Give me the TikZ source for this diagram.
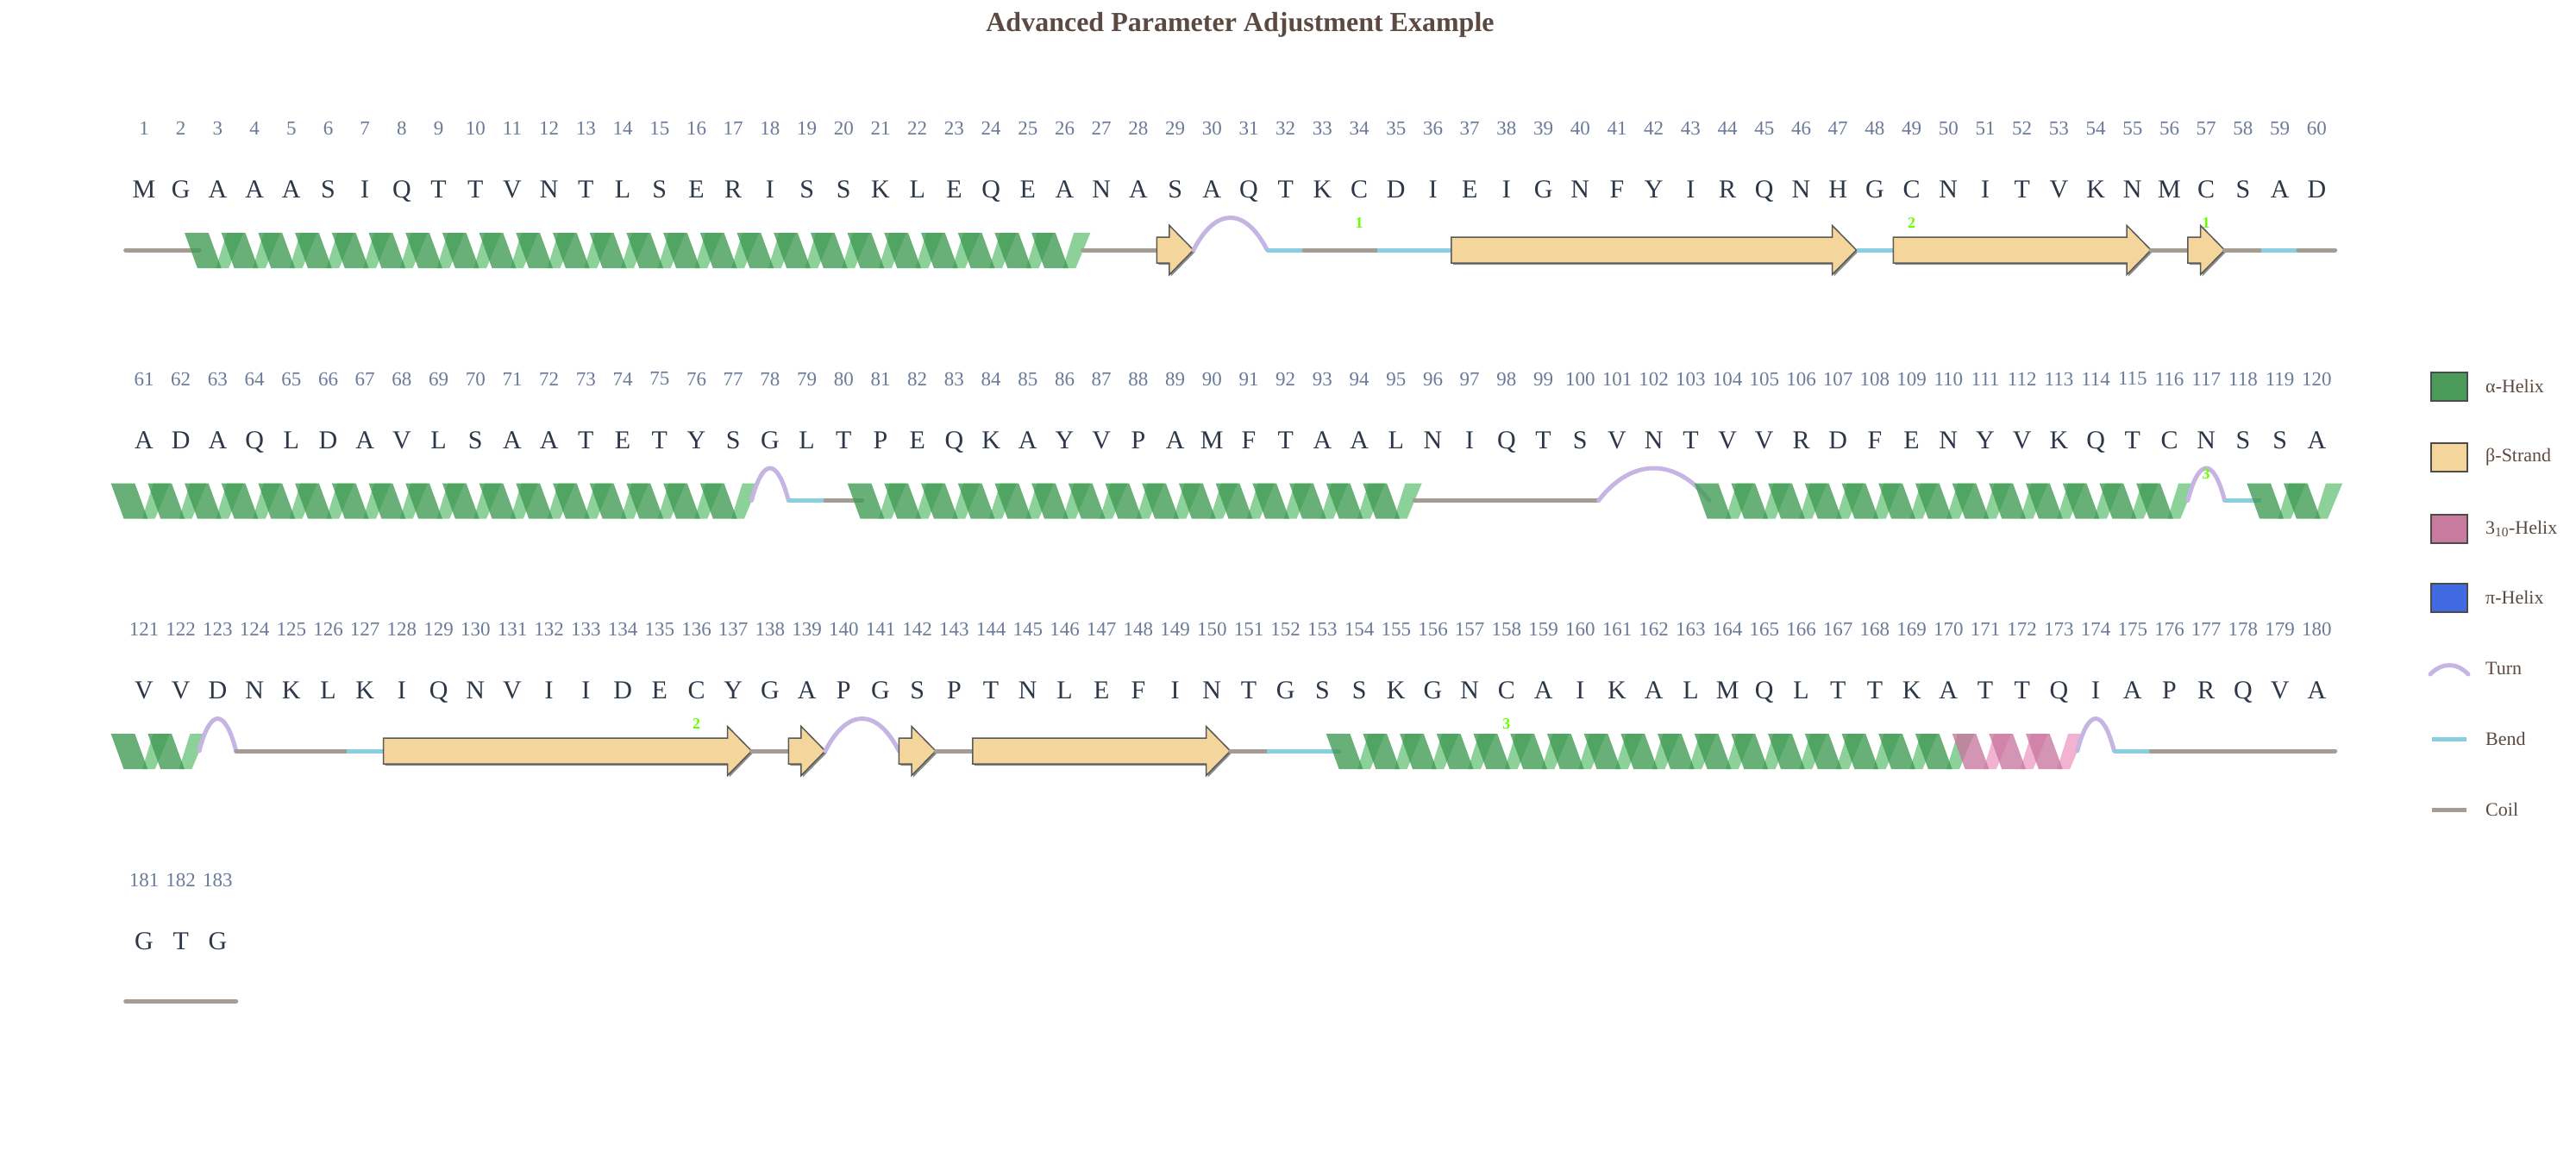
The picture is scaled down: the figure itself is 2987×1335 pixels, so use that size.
\documentclass[tikz,border=0pt]{standalone}
\usepackage{fontspec}
\setmainfont{Liberation Serif}
\definecolor{hdark}{HTML}{3F9A52}
\definecolor{hlight}{HTML}{8CD09A}
\definecolor{pdark}{HTML}{C8769E}
\definecolor{plight}{HTML}{F2B3D1}
\definecolor{strandc}{HTML}{F4D59B}
\definecolor{turnc}{HTML}{C6B5E2}
\definecolor{bendc}{HTML}{8ACFE1}
\definecolor{coilc}{HTML}{A59D94}
\definecolor{numc}{HTML}{6B7A99}
\definecolor{resc}{HTML}{2D3748}
\definecolor{legc}{HTML}{5A4A42}
\definecolor{labc}{HTML}{66FF00}
\tikzset{
 num/.style={text=numc,font=\fontsize{23}{26}\selectfont,inner sep=0},
 res/.style={text=resc,font=\fontsize{30}{34}\selectfont,inner sep=0},
 coilL/.style={draw=coilc,line width=5pt,line cap=round},
 bendL/.style={draw=bendc,line width=5pt},
 turnL/.style={draw=turnc,line width=5pt,line cap=round},
 strandS/.style={fill=strandc,draw=black!65,line width=1.5pt},
 lab/.style={text=labc,font=\bfseries\fontsize{18}{20}\selectfont,inner sep=0},
 leg/.style={text=legc,font=\fontsize{22}{26}\selectfont,anchor=west,inner sep=0},
}
% #1 track y, #2 j1, #3 j2, #4 dark, #5 light
\newcommand\hlx[5]{%
 \foreach \j in {#2,...,#3}{\pgfmathsetmacro\c{167+42.7*(\j-1)}
  \fill[#5] (\c-2.1,#1+21) -- (\c+12.8,#1+21) -- (\c+29.9,#1-20) -- (\c+10.7,#1-20) -- cycle;}
 \foreach \j in {#2,...,#3}{\pgfmathsetmacro\c{167+42.7*(\j-1)}
  \fill[#4,opacity=.78] (\c-38.4,#1-20) -- (\c-10.7,#1-20) -- (\c+4.3,#1+21) -- (\c-23.5,#1+21) -- cycle;}}
\newcommand\seg[4]{% style, y, j1, j2
 \pgfmathsetmacro\a{167+42.7*(#3-1)-21.35}\pgfmathsetmacro\b{167+42.7*(#4-1)+21.35}
 \draw[#1] (\a,#2) -- (\b,#2);}
\newcommand\trn[3]{%
 \pgfmathsetmacro\a{167+42.7*(#2-1)-21.35}\pgfmathsetmacro\b{167+42.7*(#3-1)+21.35}
 \pgfmathsetmacro\w{\b-\a}
 \draw[turnL] (\a,#1) .. controls (\a+0.3*\w,#1-50) and (\a+0.7*\w,#1-50) .. (\b,#1);}
\newcommand\strd[3]{%
 \pgfmathsetmacro\a{167+42.7*(#2-1)-21.35}\pgfmathsetmacro\b{167+42.7*(#3-1)+21.35}
 \pgfmathsetmacro\h{\b-28}
 \fill[black!45] (\a+2,#1-13) -- (\h+2,#1-13) -- (\h+2,#1-26.5) -- (\b+2,#1+2) -- (\h+2,#1+30.5) -- (\h+2,#1+17) -- (\a+2,#1+17) -- cycle;
 \draw[strandS] (\a,#1-15) -- (\h,#1-15) -- (\h,#1-28.5) -- (\b,#1) -- (\h,#1+28.5) -- (\h,#1+15) -- (\a,#1+15) -- cycle;}
\newcommand\lbl[3]{\node[lab] (lab#1#2) at ({167+42.7*(#2-1)},#1-31) {#3};}
\begin{document}
\begin{tikzpicture}[x=1pt,y=-1pt]
\useasboundingbox (0,0) rectangle (2987,1335);
\node[text=legc,font=\bfseries\fontsize{32}{36}\selectfont] (title) at (1438,29) {Advanced Parameter Adjustment Example};
% numbers and residues
\foreach \r/\s in {0/{M,G,A,A,A,S,I,Q,T,T,V,N,T,L,S,E,R,I,S,S,K,L,E,Q,E,A,N,A,S,A,Q,T,K,C,D,I,E,I,G,N,F,Y,I,R,Q,N,H,G,C,N,I,T,V,K,N,M,C,S,A,D},
 1/{A,D,A,Q,L,D,A,V,L,S,A,A,T,E,T,Y,S,G,L,T,P,E,Q,K,A,Y,V,P,A,M,F,T,A,A,L,N,I,Q,T,S,V,N,T,V,V,R,D,F,E,N,Y,V,K,Q,T,C,N,S,S,A},
 2/{V,V,D,N,K,L,K,I,Q,N,V,I,I,D,E,C,Y,G,A,P,G,S,P,T,N,L,E,F,I,N,T,G,S,S,K,G,N,C,A,I,K,A,L,M,Q,L,T,T,K,A,T,T,Q,I,A,P,R,Q,V,A},
 3/{G,T,G}}{
 \foreach \ch [count=\j] in \s {
  \pgfmathtruncatemacro\idx{60*\r+\j}
  \node[num] (n\idx) at ({167+42.7*(\j-1)},149+290.5*\r) {\idx};
  \node[res] (r\idx) at ({167+42.7*(\j-1)},223+290.5*\r) {\strut\ch};
 }
}
% row 1 (y=290)
\seg{coilL}{290}{1}{2}
\hlx{290}{3}{26}{hdark}{hlight}
\seg{coilL}{290}{27}{28}
\strd{290}{29}{29}
\trn{290}{30}{31}
\seg{bendL}{290}{32}{32}
\seg{coilL}{290}{33}{34}
\seg{bendL}{290}{35}{36}
\strd{290}{37}{47}
\seg{bendL}{290}{48}{48}
\strd{290}{49}{55}
\seg{coilL}{290}{56}{56}
\strd{290}{57}{57}
\seg{coilL}{290}{58}{58}
\seg{bendL}{290}{59}{59}
\seg{coilL}{290}{60}{60}
\lbl{290}{34}{1}\lbl{290}{49}{2}\lbl{290}{57}{1}
% row 2 (y=580.5)
\hlx{580.5}{1}{17}{hdark}{hlight}
\trn{580.5}{18}{18}
\seg{bendL}{580.5}{19}{19}
\seg{coilL}{580.5}{20}{20}
\hlx{580.5}{21}{35}{hdark}{hlight}
\seg{coilL}{580.5}{36}{40}
\trn{580.5}{41}{43}
\hlx{580.5}{44}{56}{hdark}{hlight}
\trn{580.5}{57}{57}
\seg{bendL}{580.5}{58}{58}
\hlx{580.5}{59}{60}{hdark}{hlight}
\lbl{580.5}{57}{3}
% row 3 (y=871)
\hlx{871}{1}{2}{hdark}{hlight}
\trn{871}{3}{3}
\seg{coilL}{871}{4}{6}
\seg{bendL}{871}{7}{7}
\strd{871}{8}{17}
\seg{coilL}{871}{18}{18}
\strd{871}{19}{19}
\trn{871}{20}{21}
\strd{871}{22}{22}
\seg{coilL}{871}{23}{23}
\strd{871}{24}{30}
\seg{coilL}{871}{31}{31}
\seg{bendL}{871}{32}{33}
\hlx{871}{34}{50}{hdark}{hlight}
\hlx{871}{51}{53}{pdark}{plight}
\trn{871}{54}{54}
\seg{bendL}{871}{55}{55}
\seg{coilL}{871}{56}{60}
\lbl{871}{16}{2}\lbl{871}{38}{3}
% row 4 (y=1161.5)
\seg{coilL}{1161.5}{1}{3}
% legend
\draw[fill={rgb,255:red,74;green,154;blue,90},draw=black!70,line width=1.2pt] (2819,432) rectangle (2861,465); \node[leg] (l1) at (2882,448) {α-Helix};
\draw[fill=strandc,draw=black!70,line width=1.2pt] (2819,514) rectangle (2861,547); \node[leg] (l2) at (2882,530) {β-Strand};
\draw[fill={rgb,255:red,200;green,123;blue,159},draw=black!70,line width=1.2pt] (2819,597) rectangle (2861,630); \node[leg] (l3) at (2882,613) {3\textsubscript{10}-Helix};
\draw[fill={rgb,255:red,65;green,105;blue,225},draw=black!70,line width=1.2pt] (2819,677) rectangle (2861,710); \node[leg] (l4) at (2882,693) {π-Helix};
\draw[turnL] (2818,782) .. controls (2832,768) and (2848,768) .. (2862,782); \node[leg] (l5) at (2882,775) {Turn};
\draw[bendL] (2820,857) -- (2860,857); \node[leg] (l6) at (2882,857) {Bend};
\draw[draw=coilc,line width=5pt] (2820,939) -- (2860,939); \node[leg] (l7) at (2882,939) {Coil};
\end{tikzpicture}
\end{document}
